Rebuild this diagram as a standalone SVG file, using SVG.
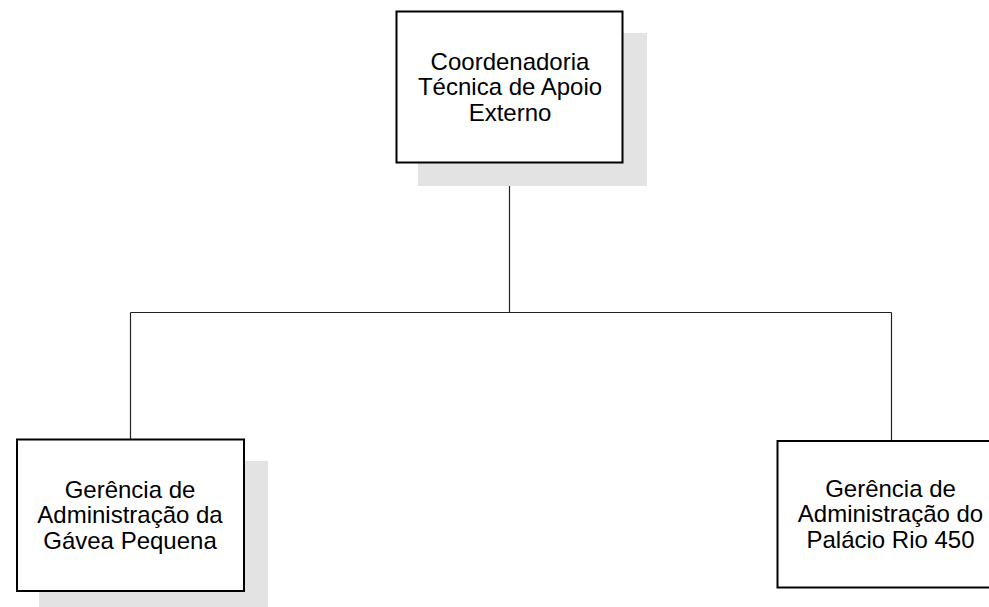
<svg xmlns="http://www.w3.org/2000/svg" width="989" height="607" viewBox="0 0 989 607">
<style>
.shadow{fill:#e3e3e3;stroke:none}
.box{fill:#ffffff;stroke:#000000;stroke-width:2}
.conn{fill:none;stroke:#222222;stroke-width:1.2}
.lbl{font-family:"Liberation Sans",Arial,sans-serif;font-size:24px;fill:#000000;text-anchor:middle}
</style>
<rect width="989" height="607" fill="#ffffff"/>
<g id="connectors">
<path class="conn" d="M509.5,163 V312.5 M130.5,312.5 H891.5 M130.5,312.5 V439 M891.5,312.5 V441"/>
</g>
<g id="node-top">
<rect class="shadow" x="418" y="33" width="229" height="153"/>
<rect class="box" x="396.5" y="11.5" width="226" height="151"/>
<text class="lbl" x="510" y="69.5">Coordenadoria</text>
<text class="lbl" x="510" y="95">Técnica de Apoio</text>
<text class="lbl" x="510" y="120.5">Externo</text>
</g>
<g id="node-left">
<rect class="shadow" x="39" y="461" width="229" height="153"/>
<rect class="box" x="17" y="439.5" width="227" height="151.5"/>
<text class="lbl" x="130" y="497.7">Gerência de</text>
<text class="lbl" x="130" y="523.3">Administração da</text>
<text class="lbl" x="130" y="549">Gávea Pequena</text>
</g>
<g id="node-right">
<rect class="box" x="777.5" y="441" width="227" height="146.5"/>
<text class="lbl" x="890.5" y="496.7">Gerência de</text>
<text class="lbl" x="890.5" y="522.4">Administração do</text>
<text class="lbl" x="890.5" y="548">Palácio Rio 450</text>
</g>
</svg>
